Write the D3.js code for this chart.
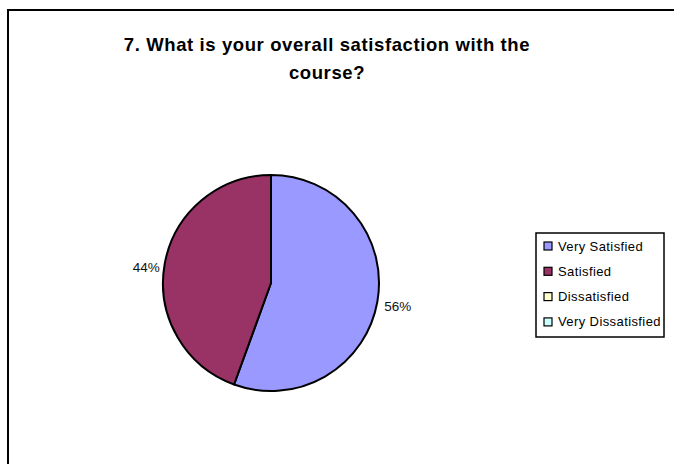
<!DOCTYPE html>
<html>
<head>
<meta charset="utf-8">
<title>Overall satisfaction</title>
<script src="https://d3js.org/d3.v7.min.js"></script>
<style>
  body { margin: 0; background: #fff; }
  svg { display: block; font-family: 'Liberation Sans', Arial, sans-serif; }
</style>
</head>
<body>
<div id="chart"></div>
<script>
const categories = ['Very Satisfied', 'Satisfied', 'Dissatisfied', 'Very Dissatisfied'];
const responses = [5, 4, 0, 0];
const sliceColors = ['#9999FF', '#993366', '#FFFFCC', '#CCFFFF'];
const titleLines = ['7. What is your overall satisfaction with the', 'course?'];

const width = 674, height = 464;
const cx = 271, cy = 283, radius = 108;

const svg = d3.select('#chart').append('svg')
  .attr('width', width)
  .attr('height', height);

// chart frame (runs off the right and bottom edge)
svg.append('rect')
  .attr('x', 8).attr('y', 10)
  .attr('width', 700).attr('height', 500)
  .attr('fill', '#fff')
  .attr('stroke', '#000')
  .attr('stroke-width', 2);

svg.append('text')
  .attr('x', 327)
  .attr('y', 51)
  .attr('text-anchor', 'middle')
  .attr('font-size', 18.5)
  .attr('font-weight', 'bold')
  .attr('letter-spacing', 0.6)
  .selectAll('tspan')
  .data(titleLines)
  .enter()
  .append('tspan')
  .attr('x', 327)
  .attr('dy', (d, i) => i === 0 ? 0 : 28)
  .text(d => d);

const color = d3.scaleOrdinal().domain(categories).range(sliceColors);
const total = d3.sum(responses);

const pie = d3.pie().sort(null).value(d => d.value);
const arcs = pie(categories.map((c, i) => ({ name: c, value: responses[i] })));
const arc = d3.arc().innerRadius(0).outerRadius(radius);

const g = svg.append('g').attr('transform', `translate(${cx},${cy})`);

g.selectAll('path')
  .data(arcs.filter(d => d.data.value > 0))
  .enter()
  .append('path')
  .attr('d', arc)
  .attr('fill', d => color(d.data.name))
  .attr('stroke', '#000')
  .attr('stroke-width', 2)
  .attr('stroke-linejoin', 'round');

const labelRadius = radius + 5;
g.selectAll('text.pct')
  .data(arcs.filter(d => d.data.value > 0))
  .enter()
  .append('text')
  .attr('class', 'pct')
  .attr('font-size', 13.5)
  .attr('fill', '#111')
  .each(function (d) {
    const a = (d.startAngle + d.endAngle) / 2;
    const x = Math.sin(a) * labelRadius;
    const y = -Math.cos(a) * labelRadius + 4;
    d3.select(this)
      .attr('x', x >= 0 ? x + 2 : x)
      .attr('y', y)
      .attr('dy', '0.35em')
      .attr('text-anchor', x >= 0 ? 'start' : 'end')
      .text(Math.round(d.data.value / total * 100) + '%');
  });

// legend
const legend = svg.append('g').attr('transform', 'translate(536,233)');
legend.append('rect')
  .attr('width', 128).attr('height', 104)
  .attr('fill', '#fff')
  .attr('stroke', '#000')
  .attr('stroke-width', 1.5);

const item = legend.selectAll('g.item')
  .data(categories)
  .enter()
  .append('g')
  .attr('class', 'item')
  .attr('transform', (d, i) => `translate(8,${13 + i * 25.3})`);

item.append('rect')
  .attr('x', 0).attr('y', -4)
  .attr('width', 8).attr('height', 8)
  .attr('fill', d => color(d))
  .attr('stroke', '#000')
  .attr('stroke-width', 1.2);

item.append('text')
  .attr('x', 14)
  .attr('y', 0)
  .attr('dy', '0.35em')
  .attr('font-size', 13)
  .attr('letter-spacing', 0.4)
  .text(d => d);
</script>
</body>
</html>
